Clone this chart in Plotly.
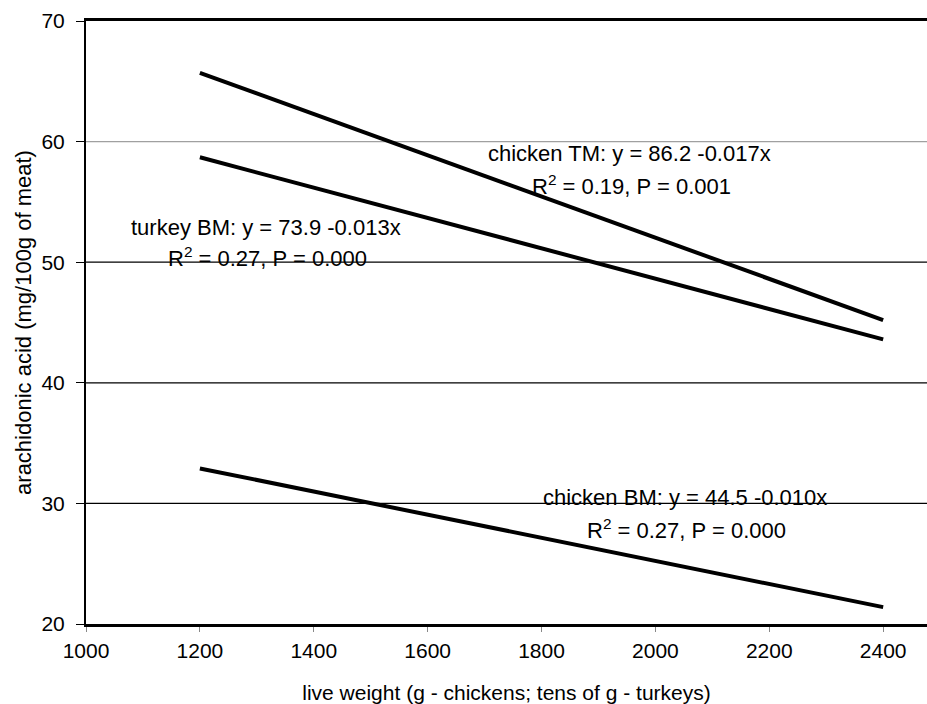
import plotly.graph_objects as go

# Data (regression lines)
x_ends = [1200, 2400]
chicken_tm = [65.7, 45.2]
turkey_bm = [58.7, 43.6]
chicken_bm = [32.9, 21.4]

x_ticks = [1000, 1200, 1400, 1600, 1800, 2000, 2200, 2400]
y_ticks = [20, 30, 40, 50, 60, 70]
grid_vals = [30, 40, 50, 60]
grid_colors = ["black", "black", "black", "#a0a0a0"]

labels = [
    ("chicken TM: y = 86.2 -0.017x", 1955, 59.0),
    ("R<sup>2</sup> = 0.19, P = 0.001", 1958, 56.4),
    ("turkey BM: y = 73.9 -0.013x", 1316, 52.9),
    ("R<sup>2</sup> = 0.27, P = 0.000", 1318, 50.4),
    ("chicken BM: y = 44.5 -0.010x", 2052, 30.45),
    ("R<sup>2</sup> = 0.27, P = 0.000", 2054, 27.9),
]

FONT = "Liberation Sans, Arial, sans-serif"

fig = go.Figure()

# horizontal gridlines (the one at 60 is grey in the reference)
for gv, gc in zip(grid_vals, grid_colors):
    fig.add_shape(type="line", xref="paper", yref="y", x0=0, x1=1, y0=gv, y1=gv,
                  line=dict(color=gc, width=1.3), layer="below")

for ys in (chicken_tm, turkey_bm, chicken_bm):
    fig.add_trace(go.Scatter(x=x_ends, y=ys, mode="lines",
                             line=dict(color="black", width=4),
                             showlegend=False, hoverinfo="skip"))

for text, xa, ya in labels:
    fig.add_annotation(x=xa, y=ya, xref="x", yref="y", text=text,
                       showarrow=False, font=dict(family=FONT, size=22, color="black"),
                       xanchor="center", yanchor="middle")

fig.update_layout(
    width=927, height=704,
    margin=dict(l=86, r=0, t=21, b=80),
    plot_bgcolor="white", paper_bgcolor="white",
    font=dict(family=FONT, color="black"),
)
fig.update_xaxes(
    range=[1000, 2477], tickvals=x_ticks, ticktext=[str(v) for v in x_ticks],
    showgrid=False, zeroline=False,
    showline=True, linecolor="black", linewidth=3, mirror=True,
    ticks="outside", ticklen=5, tickcolor="#888888", tickwidth=1,
    tickfont=dict(family=FONT, size=21, color="black"),
    ticklabelstandoff=1,
    title=dict(text="live weight (g - chickens; tens of g - turkeys)",
               font=dict(family=FONT, size=21, color="black"), standoff=27),
)
fig.update_yaxes(
    range=[20, 70], tickvals=y_ticks, ticktext=[str(v) for v in y_ticks],
    showgrid=False, zeroline=False,
    showline=True, linecolor="black", linewidth=2,
    ticks="outside", ticklen=8, tickcolor="black", tickwidth=1,
    tickfont=dict(family=FONT, size=21, color="black"),
    ticklabelstandoff=7,
    title=dict(text="arachidonic acid (mg/100g of meat)",
               font=dict(family=FONT, size=22, color="black"), standoff=4),
)

fig.write_html("out.html")
